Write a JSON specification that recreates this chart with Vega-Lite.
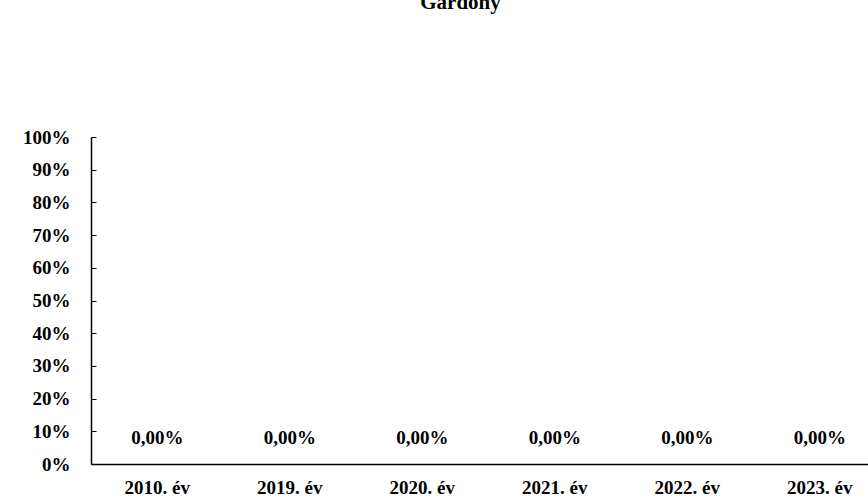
{
  "$schema": "https://vega.github.io/schema/vega-lite/v6.json",
  "width": 795,
  "height": 327,
  "autosize": {"type": "none"},
  "padding": {"left": 91, "top": 137, "right": 0, "bottom": 34},
  "background": "white",
  "title": {
    "text": "Gárdony",
    "font": "Liberation Serif",
    "fontSize": 21,
    "fontWeight": "bold",
    "color": "black",
    "anchor": "middle",
    "frame": "group",
    "baseline": "bottom",
    "offset": 94,
    "dx": -28
  },
  "data": {
    "values": [
      {"ev": "2010. év", "arany": 0, "cimke": "0,00%"},
      {"ev": "2019. év", "arany": 0, "cimke": "0,00%"},
      {"ev": "2020. év", "arany": 0, "cimke": "0,00%"},
      {"ev": "2021. év", "arany": 0, "cimke": "0,00%"},
      {"ev": "2022. év", "arany": 0, "cimke": "0,00%"},
      {"ev": "2023. év", "arany": 0, "cimke": "0,00%"}
    ]
  },
  "encoding": {
    "x": {
      "field": "ev",
      "type": "nominal",
      "sort": null,
      "scale": {"paddingInner": 0.3, "paddingOuter": 0.15},
      "axis": {
        "title": null,
        "labelAngle": 0,
        "ticks": false,
        "domainColor": "black",
        "domainWidth": 1.5,
        "labelFont": "Liberation Serif",
        "labelFontSize": 19,
        "labelFontWeight": "bold",
        "labelColor": "black",
        "labelPadding": 14,
        "labelBaseline": "top"
      }
    },
    "y": {
      "field": "arany",
      "type": "quantitative",
      "scale": {"domain": [0, 1], "nice": false},
      "axis": {
        "title": null,
        "format": ".0%",
        "values": [0, 0.1, 0.2, 0.3, 0.4, 0.5, 0.6, 0.7, 0.8, 0.9, 1],
        "grid": false,
        "domainColor": "black",
        "domainWidth": 1.5,
        "tickColor": "black",
        "tickSize": -5,
        "labelFont": "Liberation Serif",
        "labelFontSize": 19,
        "labelFontWeight": "bold",
        "labelColor": "black",
        "labelPadding": 26
      }
    }
  },
  "layer": [
    {"mark": {"type": "bar", "color": "#4472c4"}},
    {
      "mark": {
        "type": "text",
        "font": "Liberation Serif",
        "fontSize": 19,
        "fontWeight": "bold",
        "color": "black",
        "baseline": "middle",
        "dy": -26
      },
      "encoding": {"text": {"field": "cimke"}}
    }
  ],
  "config": {"view": {"stroke": null}}
}
